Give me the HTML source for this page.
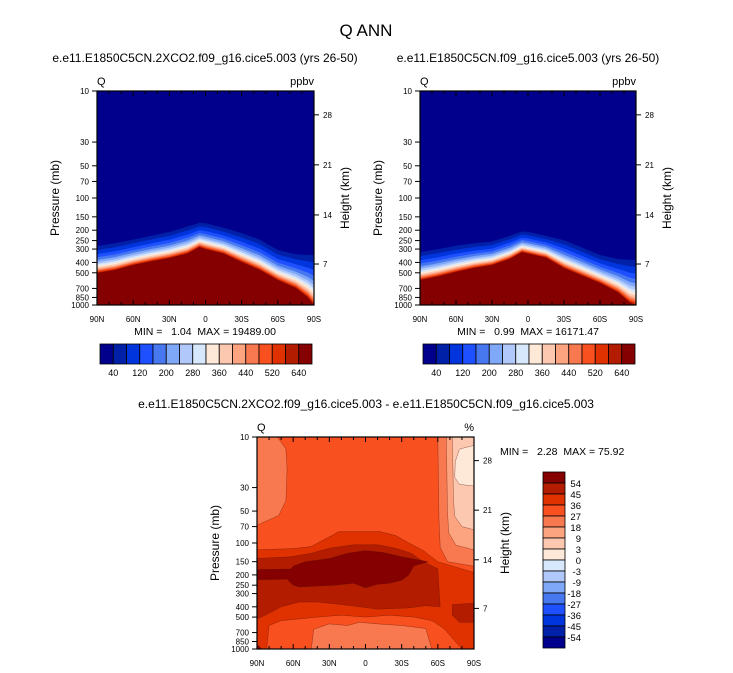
<!DOCTYPE html>
<html><head><meta charset="utf-8"><style>
html,body{margin:0;padding:0;background:#fff}
svg{display:block}
text{font-family:"Liberation Sans",Arial,sans-serif;fill:#000}
</style></head><body>
<svg id="fig" width="733" height="673" viewBox="0 0 733 673" xmlns="http://www.w3.org/2000/svg">
<text x="366" y="36" font-size="17" text-anchor="middle">Q ANN</text>
<text x="205" y="62" font-size="12" text-anchor="middle">e.e11.E1850C5CN.2XCO2.f09_g16.cice5.003 (yrs 26-50)</text>
<text x="528" y="62" font-size="12" text-anchor="middle">e.e11.E1850C5CN.f09_g16.cice5.003 (yrs 26-50)</text>
<text x="366" y="408" font-size="12" text-anchor="middle">e.e11.E1850C5CN.2XCO2.f09_g16.cice5.003 - e.e11.E1850C5CN.f09_g16.cice5.003</text>
<g id="layer"></g>
</svg>
<script>
// ---- data ----
const lats = [90,75,60,45,30,15,5,0,-15,-30,-45,-60,-75,-85,-90];
const leftTopP = [281,265,245,225,208,185,171,172,190,213,245,306,335,341,341];
const leftRedP = [502,470,423,390,364,330,287,300,330,396,470,584,693,850,1000];
const rightTopP = [320,300,280,265,255,225,205,208,225,248,290,341,372,379,379];
const rightRedP = [584,540,490,450,423,370,320,330,360,451,530,622,760,950,1000];
const pTicks = [10,30,50,70,100,150,200,250,300,400,500,700,850,1000];
const hTickLabels = [7,14,21,28];
const hTickP = [414,144,49,16.7];
const latTicks = [90,60,30,0,-30,-60,-90];
const latLabels = ["90N","60N","30N","0","30S","60S","90S"];
const topCbLabels = ["40","120","200","280","360","440","520","640"];
const diffCbLabels = ["54","45","36","27","18","9","3","0","-3","-9","-18","-27","-36","-45","-54"];
const colors = ["#00008c","#0020a8","#0034dc","#1e50ff","#4878f0","#80a8f8","#b0c8fa","#d8e8fc","#fee8d8","#fdc8b0","#fca480","#f87850","#f8501f","#e03200","#b41c00","#850000"];
// difference field contour regions (lat, pressure) with color index
const diffRegions = [
 {c:11, lat:[90,73,66,65,66,72,90], p:[10,10,13,20,40,55,68]},
 {c:11, lat:[-60,-61,-62,-68,-90,-90], p:[10,60,110,150,166,10]},
 {c:10, lat:[-67,-68,-69,-75,-90,-90], p:[10,50,80,105,116,10]},
 {c:9,  lat:[-72,-73,-74,-80,-90,-90], p:[10,40,56,70,75,10]},
 {c:8,  lat:[-90,-78,-74.5,-74,-78,-90], p:[12,13,17,24,28,29]},
 {c:13, lat:[90,60,45,32,22,-12,-25,-36,-48,-60,-90,-90,90], p:[116,113,108,90,78,78,85,100,118,150,190,1000,1000]},
 {c:14, lat:[90,62,45,30,10,-10,-25,-38,-48,-60,-62,-50,-35,-10,5,20,40,55,70,80,90], p:[140,135,125,112,104,104,112,125,150,175,400,390,410,420,400,380,360,360,400,460,520]},
 {c:15, lat:[90,62,60,50,30,15,0,-15,-30,-45,-52,-40,-36,-30,-20,-10,0,10,25,40,55,60,65,90], p:[178,176,165,150,140,125,118,123,135,145,150,165,200,225,240,245,265,240,250,255,260,250,220,222]},
 {c:14, lat:[-72,-90,-90,-78,-72], p:[380,370,560,560,480]},
 {c:12, lat:[82,80,70,55,40,20,0,-20,-40,-55,-65,-80], p:[1000,600,540,520,500,480,500,480,500,540,640,1000]},
 {c:11, lat:[45,43,30,15,5,-10,-30,-50,-55], p:[1000,650,580,600,560,580,600,640,1000]},
 {c:15, lat:[90,86,90], p:[900,1000,1000]}
];
const diffBaseColor = 12;
const bandFrac = [0,0.15,0.3,0.42,0.52,0.6,0.67,0.73,0.79,0.84,0.88,0.92,0.95,0.98,1.0];

const NS = "http://www.w3.org/2000/svg";
const layer = document.getElementById('layer');
function mk(tag, attrs, parent){
  const e = document.createElementNS(NS, tag);
  for (const k in attrs) e.setAttribute(k, attrs[k]);
  (parent||layer).appendChild(e);
  return e;
}
function axes(x0,x1,y0,y1){
  return {
    x: lat => x0 + (90-lat)/180*(x1-x0),
    y: p => y0 + Math.log10(p/10)/2*(y1-y0),
    x0:x0,x1:x1,y0:y0,y1:y1
  };
}
function drawFrame(ax, name, leftLab, rightLab){
  const g = mk('g',{});
  
  
  mk('rect',{x:ax.x0,y:ax.y0,width:ax.x1-ax.x0,height:ax.y1-ax.y0,fill:'none',stroke:'#000','stroke-width':1.2},g);
  pTicks.forEach(p=>{
    const y = ax.y(p);
    mk('line',{x1:ax.x0-5,x2:ax.x0,y1:y,y2:y,stroke:'#000'},g);
    const t = mk('text',{x:ax.x0-8,y:y+3,'font-size':8,'text-anchor':'end'},g);
    t.textContent = p;
    
    
  });
  hTickLabels.forEach((h,i)=>{
    const y = ax.y(hTickP[i]);
    mk('line',{x1:ax.x1,x2:ax.x1+5,y1:y,y2:y,stroke:'#000'},g);
    const t = mk('text',{x:ax.x1+9,y:y+3,'font-size':8},g);
    t.textContent = h;
    
    
  });
  for (let l=90; l>=-90; l-=10){
    const x = ax.x(l);
    const len = (l%30===0)?5:3;
    mk('line',{x1:x,x2:x,y1:ax.y1,y2:ax.y1-len,stroke:'#000'},g);
    mk('line',{x1:x,x2:x,y1:ax.y0,y2:ax.y0+len,stroke:'#000'},g);
  }
  latTicks.forEach((l,i)=>{
    const t = mk('text',{x:ax.x(l),y:ax.y1+17,'font-size':8,'text-anchor':'middle'},g);
    t.textContent = latLabels[i];
    
    
  });
  const cy = (ax.y0+ax.y1)/2;
  const yt = mk('text',{x:0,y:0,'font-size':12,'text-anchor':'middle',transform:`translate(${ax.x0-38},${cy}) rotate(-90)`},g);
  yt.textContent = 'Pressure (mb)';
  
  
  const ht = mk('text',{x:0,y:0,'font-size':12,'text-anchor':'middle',transform:`translate(${ax.x1+35},${cy}) rotate(-90)`},g);
  ht.textContent = 'Height (km)';
  
  
  const q = mk('text',{x:ax.x0,y:ax.y0-6,'font-size':11},g);
  q.textContent = leftLab;
  
  
  const u = mk('text',{x:ax.x1,y:ax.y0-6,'font-size':11,'text-anchor':'end'},g);
  u.textContent = rightLab;
  
  
}
function drawBandPanel(ax, topP, redP, name){
  const g = mk('g',{});
  
  
  const bg = mk('rect',{x:ax.x0,y:ax.y0,width:ax.x1-ax.x0,height:ax.y1-ax.y0,fill:colors[0]},g);
  
  
  for (let k=1;k<16;k++){
    const f = bandFrac[k-1];
    let d = '';
    lats.forEach((l,i)=>{
      const yt = ax.y(topP[i]), yr = ax.y(redP[i]);
      const y = Math.min(yt + f*(yr-yt), ax.y1);
      d += (i?'L':'M') + ax.x(l).toFixed(1) + ' ' + y.toFixed(1) + ' ';
    });
    d += `L${ax.x1} ${ax.y1} L${ax.x0} ${ax.y1} Z`;
    const path = mk('path',{d:d,fill:colors[k]},g);
    
    
  }
}
function drawDiffPanel(ax){
  const g = mk('g',{});
  
  
  mk('rect',{x:ax.x0,y:ax.y0,width:ax.x1-ax.x0,height:ax.y1-ax.y0,fill:colors[diffBaseColor]},g);
  diffRegions.forEach(r=>{
    let pts = r.lat.map((l,i)=>ax.x(l).toFixed(1)+','+ax.y(r.p[i]).toFixed(1)).join(' ');
    const poly = mk('polygon',{points:pts,fill:colors[r.c],stroke:'#5a1000','stroke-width':0.3,'stroke-linejoin':'round'},g);
    
    
  });
}
function hColorbar(x0,y0,w,h,name){
  const g = mk('g',{});
  
  
  const bw = w/16;
  colors.forEach((c,i)=>{
    const r = mk('rect',{x:x0+i*bw,y:y0,width:bw,height:h,fill:c,stroke:'#000','stroke-width':0.8},g);
    
    
  });
  topCbLabels.forEach((s,i)=>{
    const t = mk('text',{x:x0+(2*i+1)*bw,y:y0+h+12,'font-size':9,'text-anchor':'middle'},g);
    t.textContent = s;
    
    
  });
}
function vColorbar(x0,y0,w,h){
  const g = mk('g',{});
  
  
  const bh = h/16;
  for (let i=0;i<16;i++){
    const r = mk('rect',{x:x0,y:y0+i*bh,width:w,height:bh,fill:colors[15-i],stroke:'#000','stroke-width':0.8},g);
    
    
  }
  diffCbLabels.forEach((s,i)=>{
    const t = mk('text',{x:x0+w+16,y:y0+(i+1)*bh+4,'font-size':9.5,'text-anchor':'end'},g);
    t.textContent = s;
    
    
  });
}
function note(x,y,s,name,anchor){
  const t = mk('text',{x:x,y:y,'font-size':10.5,'text-anchor':anchor||'middle',style:'white-space:pre'});
  t.textContent = s;
  
  
}

const axL = axes(97,314,91,305);
const axR = axes(420,636,91,305);
const axD = axes(257,474,437,649);
drawBandPanel(axL, leftTopP, leftRedP, 'left-panel');
drawBandPanel(axR, rightTopP, rightRedP, 'right-panel');
drawDiffPanel(axD);
drawFrame(axL,'left-panel','Q','ppbv');
drawFrame(axR,'right-panel','Q','ppbv');
drawFrame(axD,'difference-panel','Q','%');
note(205,335,'MIN =   1.04  MAX = 19489.00','left-min-max');
note(528,335,'MIN =   0.99  MAX = 16171.47','right-min-max');
note(500,455,'MIN =   2.28  MAX = 75.92','difference-min-max','start');
hColorbar(100,344,212,20,'left-colorbar');
hColorbar(423,344,212,20,'right-colorbar');
vColorbar(543,472,22,176);
</script>
</body></html>
